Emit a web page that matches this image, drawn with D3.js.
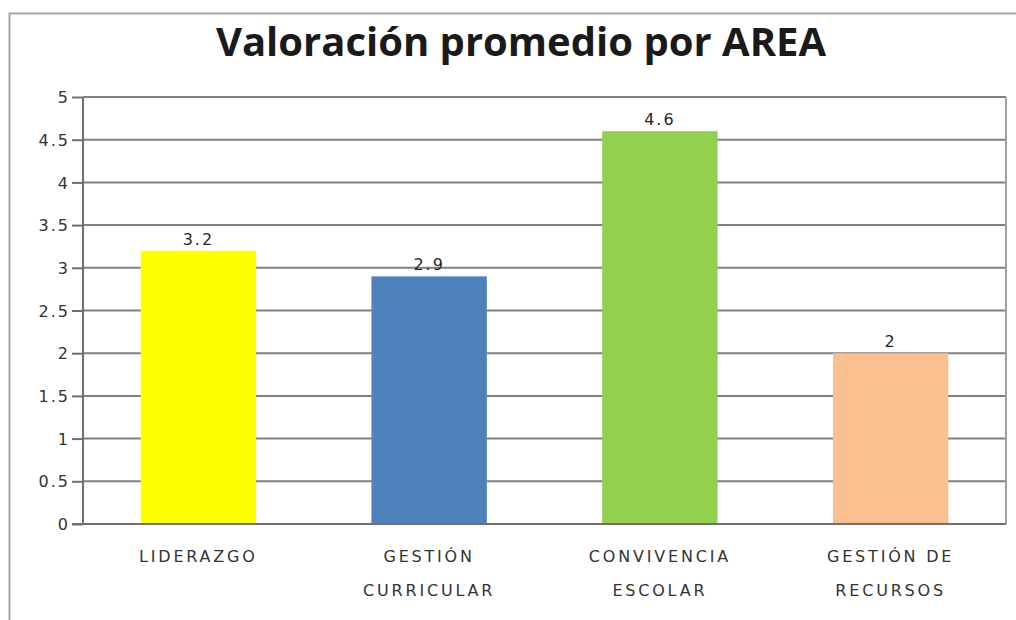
<!DOCTYPE html>
<html>
<head>
	<meta charset="utf-8">
	<title>Valoración promedio por AREA</title>
	<script type="text/javascript" src="https://d3js.org/d3.v7.min.js"></script>
	<style type="text/css">
		body { margin: 0; background: #fff; }
		.axis text {
			font-family: "DejaVu Sans", sans-serif;
			font-size: 16px;
			fill: #333;
			letter-spacing: 2px;
		}
		.catLabel {
			font-family: "DejaVu Sans", sans-serif;
			font-size: 16px;
			fill: #333;
			letter-spacing: 2.8px;
			text-anchor: middle;
		}
		.valLabel {
			font-family: "DejaVu Sans", sans-serif;
			font-size: 16px;
			fill: #262626;
			letter-spacing: 2px;
			text-anchor: middle;
		}
	</style>
</head>
<body>
<script type="text/javascript">
	var width = 1016;
	var height = 620;

	// datos
	var categories = [["LIDERAZGO"], ["GESTIÓN", "CURRICULAR"], ["CONVIVENCIA", "ESCOLAR"], ["GESTIÓN DE", "RECURSOS"]];
	var values = [3.2, 2.9, 4.6, 2];
	var colors = ["#ffff00", "#4f81bd", "#92d050", "#fac090"];
	var yTicks = [0, 0.5, 1, 1.5, 2, 2.5, 3, 3.5, 4, 4.5, 5];

	var plot = {left: 83, right: 1006, top: 97, bottom: 524};

	var svg = d3.select("body").append("svg")
		.attr("width", width)
		.attr("height", height);

	// marco exterior
	svg.append("path")
		.attr("d", "M9.5,620 V13.5 H1016")
		.attr("fill", "none")
		.attr("stroke", "#a6a6a6")
		.attr("stroke-width", 2);

	var xscale = d3.scaleBand()
		.domain(d3.range(values.length))
		.range([plot.left, plot.right])
		.paddingInner(0.5)
		.paddingOuter(0.25);

	var yscale = d3.scaleLinear()
		.domain([0, 5])
		.range([plot.bottom, plot.top]);

	// lineas de cuadricula
	svg.append("g")
		.selectAll("line")
		.data(yTicks)
		.enter()
		.append("line")
		.attr("x1", plot.left)
		.attr("x2", plot.right)
		.attr("y1", function(d){ return yscale(d); })
		.attr("y2", function(d){ return yscale(d); })
		.attr("stroke", "#808080")
		.attr("stroke-width", 2);

	// borde derecho
	svg.append("line")
		.attr("x1", plot.right).attr("x2", plot.right)
		.attr("y1", plot.top).attr("y2", plot.bottom)
		.attr("stroke", "#a0a0a0")
		.attr("stroke-width", 2);

	// barras
	svg.selectAll(".bar")
		.data(values)
		.enter()
		.append("rect")
		.attr("class", "bar")
		.attr("x", function(d, i){ return xscale(i); })
		.attr("width", xscale.bandwidth())
		.attr("y", function(d){ return yscale(d); })
		.attr("height", function(d){ return yscale(0) - yscale(d); })
		.attr("fill", function(d, i){ return colors[i]; });

	// eje y
	var yAxis = d3.axisLeft(yscale)
		.tickValues(yTicks)
		.tickFormat(function(d){ return String(d); })
		.tickSize(11)
		.tickPadding(2);

	var gy = svg.append("g")
		.attr("class", "axis")
		.attr("transform", "translate(" + plot.left + ",0)")
		.call(yAxis);
	gy.select(".domain").remove();
	gy.selectAll(".tick line").attr("stroke", "#707070").attr("stroke-width", 2);
	gy.selectAll(".tick text").attr("dy", "0.35em");

	svg.append("line")
		.attr("x1", plot.left).attr("x2", plot.left)
		.attr("y1", plot.top).attr("y2", plot.bottom)
		.attr("stroke", "#707070")
		.attr("stroke-width", 2);
	svg.append("line")
		.attr("x1", plot.left - 11).attr("x2", plot.right)
		.attr("y1", plot.bottom).attr("y2", plot.bottom)
		.attr("stroke", "#707070")
		.attr("stroke-width", 2);

	// etiquetas de valor
	svg.selectAll(".valLabel")
		.data(values)
		.enter()
		.append("text")
		.attr("class", "valLabel")
		.attr("x", function(d, i){ return xscale(i) + xscale.bandwidth() / 2; })
		.attr("y", function(d){ return yscale(d) - 6; })
		.text(function(d){ return d; });

	// etiquetas de categoria
	var cat = svg.selectAll(".catLabel")
		.data(categories)
		.enter()
		.append("text")
		.attr("class", "catLabel")
		.attr("x", function(d, i){ return xscale(i) + xscale.bandwidth() / 2; })
		.attr("y", 562);
	cat.selectAll("tspan")
		.data(function(d){ return d; })
		.enter()
		.append("tspan")
		.attr("x", function(){ return d3.select(this.parentNode).attr("x"); })
		.attr("dy", function(d, i){ return i === 0 ? 0 : 34; })
		.text(function(d){ return d; });

	// titulo
	svg.append("text")
		.attr("x", 521)
		.attr("y", 56)
		.attr("text-anchor", "middle")
		.style("font-family", "'Open Sans', sans-serif")
		.style("font-weight", "bold")
		.style("font-size", "40px")
		.style("fill", "#1a1a1a")
		.text("Valoración promedio por AREA");
</script>
</body>
</html>
